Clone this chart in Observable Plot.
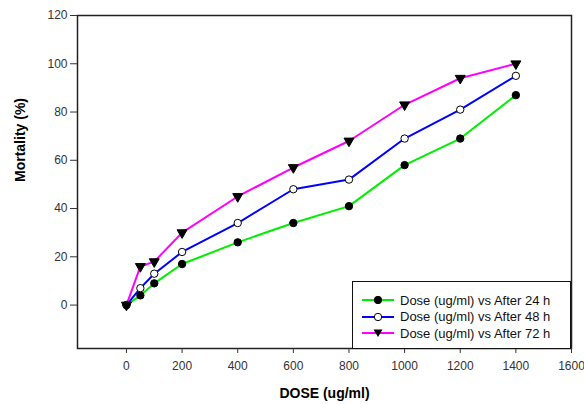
<!DOCTYPE html>
<html>
<head>
<meta charset="utf-8">
<script src="https://cdn.jsdelivr.net/npm/d3@7"></script>
<script src="https://cdn.jsdelivr.net/npm/@observablehq/plot@0.6"></script>
<style>
  html, body { margin: 0; padding: 0; background: #fff; }
  #wrap { position: relative; width: 584px; height: 404px; font-family: "Liberation Sans", Arial, sans-serif; }
  #legend { position: absolute; background: #fff; border: 1px solid #111; box-sizing: border-box; font-size: 13px; color: #111; }
  .row { display: flex; align-items: center; height: 16.5px; }
  .row svg { margin-right: 6px; }
</style>
</head>
<body>
<div id="wrap"></div>
<script>
const doses = [0, 50, 100, 200, 400, 600, 800, 1000, 1200, 1400];
const after24 = [0, 4, 9, 17, 26, 34, 41, 58, 69, 87];
const after48 = [0, 7, 13, 22, 34, 48, 52, 69, 81, 95];
const after72 = [0, 16, 18, 30, 45, 57, 68, 83, 94, 100];
const seriesNames = ["Dose (ug/ml) vs After 24 h", "Dose (ug/ml) vs After 48 h", "Dose (ug/ml) vs After 72 h"];
const xTicks = [0, 200, 400, 600, 800, 1000, 1200, 1400, 1600];
const yTicks = [0, 20, 40, 60, 80, 100, 120];

const styles = [
  {color: "#00ee00", symbol: "circle", fill: "#000", rotate: 0},
  {color: "#0000ff", symbol: "circle", fill: "#fff", rotate: 0},
  {color: "#ff00ff", symbol: "triangle", fill: "#000", rotate: 180}
];
const seriesValues = [after24, after48, after72];
const data = seriesValues.flatMap((vals, i) => doses.map((d, j) => ({dose: d, value: vals[j], series: i})));

const marks = [Plot.frame({stroke: "#222", strokeWidth: 1.5})];
seriesValues.forEach((vals, i) => {
  const rows = data.filter(r => r.series === i);
  marks.push(Plot.line(rows, {x: "dose", y: "value", stroke: styles[i].color, strokeWidth: 2}));
});
seriesValues.forEach((vals, i) => {
  const rows = data.filter(r => r.series === i);
  marks.push(Plot.dot(rows, {x: "dose", y: "value", symbol: styles[i].symbol, r: styles[i].symbol === "triangle" ? 3.7 : 3.7,
    fill: styles[i].fill, stroke: "#000", strokeWidth: 1, rotate: styles[i].rotate}));
});
marks.push(
  Plot.axisX({ticks: xTicks, tickSize: 5, tickPadding: 8, label: null, fontSize: 12, color: "#333", tickFormat: d => String(d)}),
  Plot.axisY({ticks: yTicks, tickSize: 7, tickPadding: 3, label: null, fontSize: 12, color: "#333", tickFormat: d => String(d)}),
  Plot.text(["DOSE (ug/ml)"], {frameAnchor: "bottom", dy: 49, fontSize: 14, fontWeight: "bold", fill: "#000"}),
  Plot.text(["Mortality (%)"], {frameAnchor: "left", dx: -57, rotate: -90, fontSize: 14, fontWeight: "bold", fill: "#000"})
);

const chart = Plot.plot({
  width: 584, height: 404,
  marginLeft: 77, marginRight: 13, marginTop: 15, marginBottom: 56,
  style: {fontFamily: "Liberation Sans, Arial, sans-serif", background: "#fff"},
  x: {domain: [-176, 1600]},
  y: {domain: [-18, 120]},
  marks
});
const wrap = document.getElementById("wrap");
wrap.appendChild(chart);

// legend
const legend = document.createElement("div");
legend.id = "legend";
legend.style.left = "352px";
legend.style.top = "281px";
legend.style.width = "219px";
legend.style.height = "68px";
legend.style.padding = "10px 0 0 9px";
seriesNames.forEach((name, i) => {
  const row = document.createElement("div");
  row.className = "row";
  const s = styles[i];
  let marker;
  if (s.symbol === "triangle") marker = `<path d="M11.5,4.5 L20.5,4.5 L16,12 Z" fill="#000"/>`;
  else marker = `<circle cx="16" cy="8" r="3.7" fill="${s.fill}" stroke="#000" stroke-width="1"/>`;
  row.innerHTML = `<svg width="32" height="16"><line x1="0" y1="8" x2="32" y2="8" stroke="${s.color}" stroke-width="2"/>${marker}</svg><span>${name}</span>`;
  legend.appendChild(row);
});
wrap.appendChild(legend);
</script>
</body>
</html>
